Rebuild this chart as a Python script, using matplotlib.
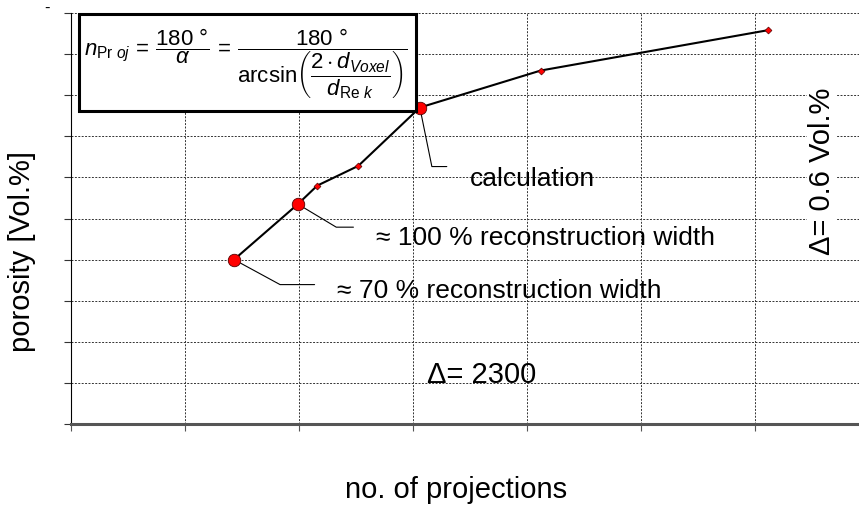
import matplotlib
matplotlib.use("Agg")
import matplotlib.pyplot as plt
from matplotlib.patches import Rectangle

plt.rcParams['font.family'] = ['Liberation Sans', 'DejaVu Sans']
plt.rcParams['mathtext.fontset'] = 'custom'
plt.rcParams['mathtext.rm'] = 'Liberation Sans'
plt.rcParams['mathtext.it'] = 'Liberation Sans:italic'
plt.rcParams['mathtext.bf'] = 'Liberation Sans:bold'

# data (no tick labels in the original)
projections = [715, 995, 1080, 1260, 1530, 2060, 3055]
porosity = [0.40, 0.535, 0.58, 0.628, 0.77, 0.86, 0.958]
big_point = [True, True, False, False, True, False, False]

labels = ['≈ 70 % reconstruction width', '≈ 100 % reconstruction width', 'calculation']
label_idx = [0, 1, 4]

fig = plt.figure(figsize=(8.59, 5.06), dpi=100)
ax = fig.add_axes([71/859, 81/506, 788/859, 411/506])

ax.set_xlim(0, 3456)
ax.set_ylim(0, 1.0)
ax.set_xticks(range(0, 3500, 500))
ax.set_yticks([i/10 for i in range(11)])
ax.set_xticklabels([])
ax.set_yticklabels([])
ax.grid(True, color='#333333', linestyle=(0, (2, 1.5)), linewidth=0.7)
ax.set_axisbelow(True)
ax.tick_params(axis='x', direction='out', length=5, color='#555555', width=0.8)
ax.tick_params(axis='y', direction='out', length=5, color='#333333', width=0.8)
for s in ['top', 'right']:
    ax.spines[s].set_visible(False)
ax.spines['left'].set_linewidth(0.8)
ax.spines['bottom'].set_linewidth(2.2)
ax.spines['bottom'].set_color('#555555')

ax.plot(projections, porosity, color='black', lw=1.5, zorder=3)
for x, y, big in zip(projections, porosity, big_point):
    if big:
        ax.plot(x, y, 'o', ms=9, mfc='red', mec='#550000', mew=0.6, zorder=5)
    else:
        ax.plot(x, y, 'D', ms=3.5, mfc='red', mec='#550000', mew=0.5, zorder=5)

# leader lines and labels (offsets in points)
leader = [(58, -18, -28.5), (40, -16.6, -31), (19.4, -42.5, -78.5)]
text_off = [(74, -21.6), (56, -23.8), (36, -50.4)]
for i, lab, (dx, dy, ang), (tx, ty) in zip(label_idx, labels, leader, text_off):
    ax.annotate('', xy=(projections[i], porosity[i]), xytext=(dx, dy),
                textcoords='offset points',
                arrowprops=dict(arrowstyle='-', lw=0.8, color='black',
                                connectionstyle=f'angle,angleA=0,angleB={ang},rad=0',
                                shrinkA=0, shrinkB=5), zorder=4)
    ax.annotate(lab, xy=(projections[i], porosity[i]), xytext=(tx, ty),
                textcoords='offset points', ha='left', va='center', fontsize=19, zorder=4)

ax.text(0.452, 0.122, 'Δ= 2300', transform=ax.transAxes, ha='left', va='center', fontsize=21)
ax.text(0.953, 0.618, 'Δ= 0.6 Vol.%', transform=ax.transAxes, ha='center', va='center',
        rotation=90, fontsize=21,
        bbox=dict(facecolor='white', edgecolor='none', pad=1))

# equation box
fig.patches.append(Rectangle((79/859, 1-112/506), 337/859, 97/506, transform=fig.transFigure,
                             facecolor='white', edgecolor='black', lw=2.2, zorder=4))
eq = (r'$n_{\mathrm{Pr}\ oj}\,=\,\dfrac{180\ °}{\alpha}\,=\,'
      r'\dfrac{180\ °}{\mathrm{arcsin}\left(\dfrac{2\cdot d_{Voxel}}{d_{\mathrm{Re}\ k}}\right)}$')
fig.text(246/859, 1-64/506, eq, ha='center', va='center', fontsize=16, zorder=6)

fig.text(47/859, 1-8/506, '-', ha='center', va='center', fontsize=12)
fig.text(22/859, 1-252/506, 'porosity [Vol.%]', rotation=90, ha='center', va='center', fontsize=21)
fig.text(456/859, 1-490/506, 'no. of projections', ha='center', va='center', fontsize=21)

fig.savefig('out.png', dpi=100)
